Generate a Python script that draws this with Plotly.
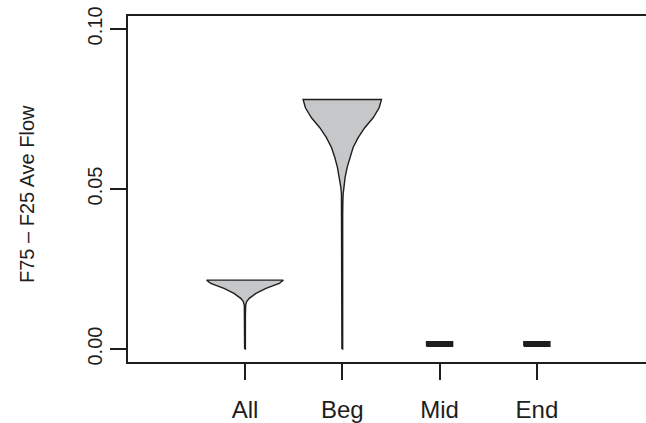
import plotly.graph_objects as go

# ---- data ----
categories = ["All", "Beg", "Mid", "End"]
positions = [1, 2, 3, 4]

# density profiles: y levels (value) and half-widths (x units), bottom -> top
all_y = [0.0, 0.0100, 0.01376, 0.01481, 0.01584, 0.01739, 0.01894, 0.0205, 0.02152]
all_w = [0.004, 0.004, 0.007, 0.017, 0.044, 0.113, 0.216, 0.352, 0.394]

beg_y = [0.0, 0.0420, 0.04637, 0.04845, 0.05053, 0.05363, 0.05674, 0.05984,
         0.06295, 0.06605, 0.06915, 0.07226, 0.07536, 0.07795]
beg_w = [0.004, 0.004, 0.006, 0.009, 0.015, 0.029, 0.050, 0.077,
         0.111, 0.163, 0.231, 0.317, 0.379, 0.403]

mid_y = [0.0009, 0.0023]
mid_w = [0.134, 0.134]

end_y = [0.0009, 0.0023]
end_w = [0.134, 0.134]

profiles_y = [all_y, beg_y, mid_y, end_y]
profiles_w = [all_w, beg_w, mid_w, end_w]
fills = ["#c6c7c9", "#c6c7c9", "#1e1e1e", "#1e1e1e"]

y_ticks = [0.0, 0.05, 0.10]
y_ticktext = ["0.00", "0.05", "0.10"]
y_title = "F75 \u2013 F25 Ave Flow"

INK = "#1e1e1e"
FONT = "Liberation Sans, Arial, Helvetica, sans-serif"

fig = go.Figure()
for pos, ys, ws, fc in zip(positions, profiles_y, profiles_w, fills):
    xs = [pos - w for w in ws] + [pos + w for w in reversed(ws)]
    yy = list(ys) + list(reversed(ys))
    xs.append(xs[0])
    yy.append(yy[0])
    fig.add_trace(go.Scatter(
        x=xs, y=yy, mode="lines", fill="toself", fillcolor=fc,
        line=dict(color=INK, width=1.4), hoverinfo="skip", showlegend=False,
    ))

fig.update_layout(
    width=646, height=423,
    margin=dict(l=128, r=0, t=16, b=59),
    paper_bgcolor="white", plot_bgcolor="white",
    font=dict(family=FONT, color=INK),
    showlegend=False,
)
fig.update_xaxes(
    range=[-0.2025, 5.1215], tickvals=positions, ticktext=categories,
    showgrid=False, zeroline=False,
    showline=True, linecolor=INK, linewidth=2, mirror=True,
    ticks="outside", ticklen=16, tickwidth=1.5, tickcolor=INK,
    tickfont=dict(size=24, family=FONT, color=INK),
    ticklabelstandoff=9,
)
fig.update_yaxes(
    range=[-0.00404, 0.10404], tickvals=y_ticks, ticktext=y_ticktext,
    showgrid=False, zeroline=False,
    showline=True, linecolor=INK, linewidth=2, mirror=False,
    ticks="outside", ticklen=16, tickwidth=1.5, tickcolor=INK,
    tickangle=-90,
    tickfont=dict(size=20, family=FONT, color=INK),
)
fig.add_annotation(
    text=y_title, textangle=-90, xref="paper", yref="paper",
    x=(27 - 128) / 518, y=(364 - 195) / 348, xanchor="center", yanchor="middle",
    showarrow=False, font=dict(size=20, family=FONT, color=INK),
)

fig.write_html(
    "out.html",
    config={"displayModeBar": False},
    post_script=(
        "document.documentElement.style.overflow='hidden';"
        "document.body.style.margin='0';document.body.style.overflow='hidden';"
    ),
)
